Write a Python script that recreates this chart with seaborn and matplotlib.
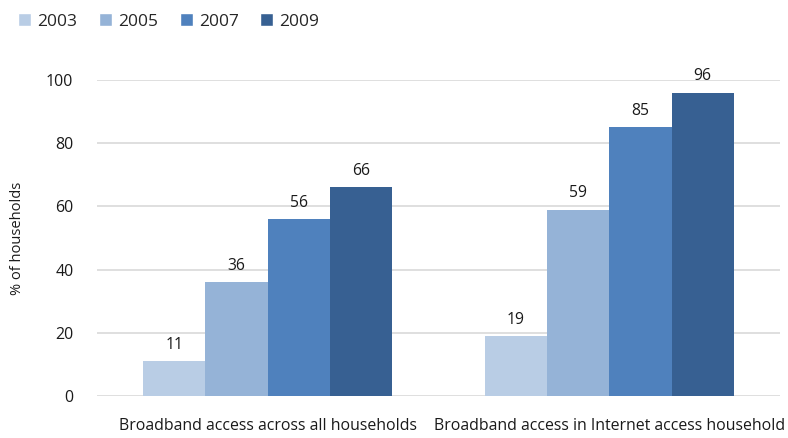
import pandas as pd
import seaborn as sns
import matplotlib.pyplot as plt
from matplotlib.patches import Patch

# data
categories = ['Broadband access across all households',
              'Broadband access in Internet access household']
years = ['2003', '2005', '2007', '2009']
vals_2003 = [11, 19]
vals_2005 = [36, 59]
vals_2007 = [56, 85]
vals_2009 = [66, 96]
colors = ['#B9CDE5', '#95B3D7', '#4F81BD', '#376092']

rows = []
for yr, vals in zip(years, [vals_2003, vals_2005, vals_2007, vals_2009]):
    for cat, v in zip(categories, vals):
        rows.append({'Category': cat, 'Year': yr, 'Value': v})
df = pd.DataFrame(rows)

sns.set_style('white')
plt.rcParams['font.family'] = ['Open Sans', 'DejaVu Sans']

fig = plt.figure(figsize=(7.88, 4.38), dpi=100)
ax = fig.add_axes([97 / 788, 42 / 438, 683 / 788, 316 / 438])

sns.barplot(data=df, x='Category', y='Value', hue='Year', hue_order=years,
            order=categories, palette=colors, width=0.73, linewidth=0,
            saturation=1, ax=ax, legend=False, zorder=3)

for cont in ax.containers:
    ax.bar_label(cont, padding=6, fontsize=11.3, color='#1a1a1a')

ax.set_ylim(0, 100)
ax.set_xlim(-0.5, 1.5)
ax.set_yticks(range(0, 101, 20))
ax.yaxis.grid(True, color='#D9D9D9', linewidth=1.2, zorder=0)
ax.set_axisbelow(True)
for s in ax.spines.values():
    s.set_visible(False)
ax.tick_params(axis='y', length=0, pad=17, labelsize=11.5, labelcolor='#1a1a1a')
ax.tick_params(axis='x', length=0, pad=16, labelsize=11.4, labelcolor='#1a1a1a')
ax.set_xlabel('')
ax.set_ylabel('% of households', fontsize=10.5, color='#1a1a1a')
ax.yaxis.set_label_coords(-0.105, 0.5)

handles = [Patch(facecolor=c, label=y) for c, y in zip(colors, years)]
fig.legend(handles=handles, loc='upper left', bbox_to_anchor=(0.003, 1.005),
           ncol=4, frameon=False, fontsize=12.5, handlelength=0.75,
           handleheight=0.75, handletextpad=0.35, columnspacing=1.25)

fig.savefig('out.png', dpi=100)
